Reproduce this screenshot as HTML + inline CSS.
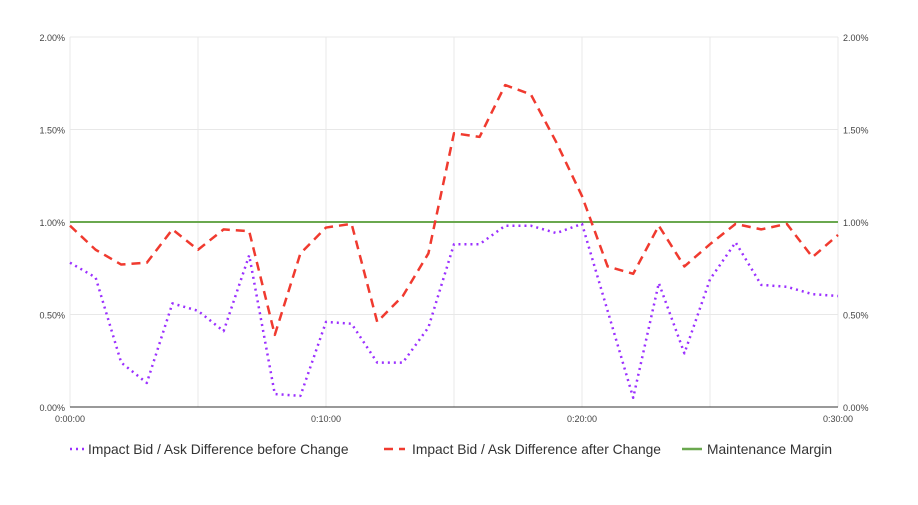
<!DOCTYPE html>
<html><head><meta charset="utf-8"><style>
body{margin:0;background:#fff;font-family:"Liberation Sans",Arial,sans-serif}
</style></head><body>
<svg id="chart" width="918" height="500" xmlns="http://www.w3.org/2000/svg" font-family="Liberation Sans, Arial, sans-serif"></svg>
<script>
const xLabels = ["0:00:00","0:10:00","0:20:00","0:30:00"];
const yTicks = [0,0.5,1,1.5,2];
const yTickLabels = ["0.00%","0.50%","1.00%","1.50%","2.00%"];
const before = [0.78,0.70,0.24,0.13,0.56,0.52,0.41,0.82,0.07,0.06,0.46,0.45,0.24,0.24,0.43,0.88,0.88,0.98,0.98,0.94,0.99,0.52,0.05,0.67,0.29,0.69,0.89,0.66,0.65,0.61,0.60];
const after = [0.98,0.85,0.77,0.78,0.96,0.85,0.96,0.95,0.39,0.83,0.97,0.99,0.46,0.60,0.83,1.48,1.46,1.74,1.69,1.43,1.14,0.76,0.72,0.98,0.76,0.88,0.99,0.96,0.99,0.81,0.93];
const margin = [1,1,1,1,1,1,1,1,1,1,1,1,1,1,1,1,1,1,1,1,1,1,1,1,1,1,1,1,1,1,1];

const svg=document.getElementById('chart');
const NS='http://www.w3.org/2000/svg';
const X0=70,X1=838,Y0=407,Y1=37;
const xs=i=>X0+(X1-X0)*i/(before.length-1);
const ys=v=>Y0-(Y0-Y1)*v/2;
function mk(t,a){const e=document.createElementNS(NS,t);for(const k in a)e.setAttribute(k,a[k]);svg.appendChild(e);return e;}

for(let m=0;m<=30;m+=5){
  const g=mk('line',{x1:xs(m),x2:xs(m),y1:Y1,y2:Y0,stroke:'#e8e8e8','stroke-width':1});
  
  
}
yTicks.forEach((v,i)=>{
  const g=mk('line',{x1:X0,x2:X1,y1:ys(v),y2:ys(v),stroke:v===0?'#333':'#e8e8e8','stroke-width':1});
  
  
  const l=mk('text',{x:X0-5,y:ys(v)+4,'font-size':9,'text-anchor':'end',fill:'#444'});
  l.textContent=yTickLabels[i];
  
  
  const r=mk('text',{x:X1+5,y:ys(v)+4,'font-size':9,'text-anchor':'start',fill:'#444'});
  r.textContent=yTickLabels[i];
  
  
});
xLabels.forEach((s,i)=>{
  const t=mk('text',{x:xs(i*10),y:Y0+15,'font-size':9,'text-anchor':'middle',fill:'#444'});
  t.textContent=s;
  
  
});
function line(d,color,dash,w,name){
  const p=mk('polyline',{points:d.map((v,i)=>xs(i)+','+ys(v)).join(' '),fill:'none',stroke:color,'stroke-width':w,'stroke-dasharray':dash,'stroke-linejoin':'round'});
  
  
}
line(margin,'#6aa84f','none',2,'maintenance-margin-line');
line(before,'#9b30ff','2 4',2.5,'before-change-line');
line(after,'#f03a2f','9 6',2.5,'after-change-line');

const leg=[[70,18,88,'#9b30ff','2 4','Impact Bid / Ask Difference before Change'],[384,21,412,'#f03a2f','9 6','Impact Bid / Ask Difference after Change'],[682,20,707,'#6aa84f','none','Maintenance Margin']];
leg.forEach(([x,w,tx0,c,d,t])=>{
  const l=mk('line',{x1:x,x2:x+w,y1:449,y2:449,stroke:c,'stroke-width':2.5,'stroke-dasharray':d});
  
  
  const tx=mk('text',{x:tx0,y:454,'font-size':13.8,fill:'#333'});
  tx.textContent=t;
  
  
});
</script>
</body></html>
